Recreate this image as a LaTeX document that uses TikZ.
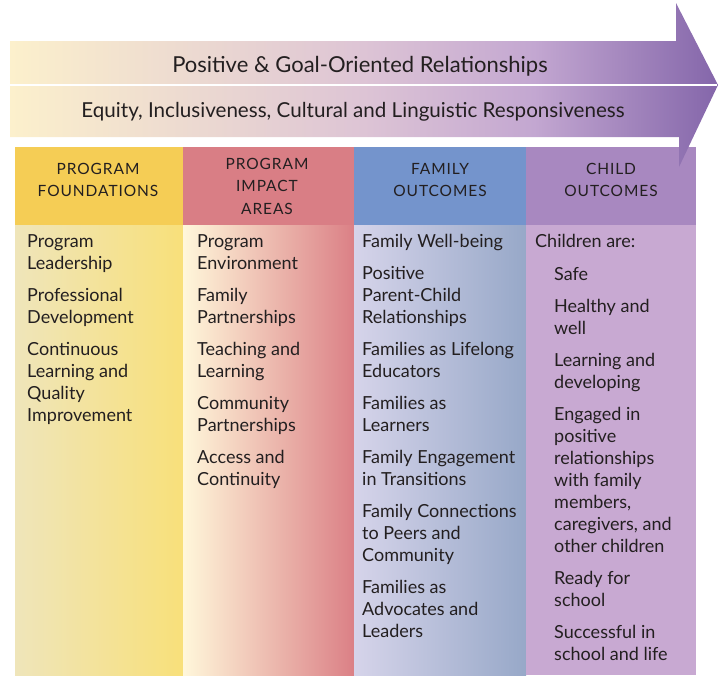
\documentclass[tikz,border=0pt]{standalone}
\usepackage{fontspec}
\setmainfont{Lato}
\newfontfamily\headfont[LetterSpace=6]{Lato}
\usetikzlibrary{positioning}

\definecolor{bandA}{HTML}{FCF0CC}
\definecolor{bandB}{HTML}{DDC4D5}
\definecolor{bandC}{HTML}{C3A7D1}
\definecolor{bandD}{HTML}{8466AA}
\definecolor{foundHead}{HTML}{F5CD55}
\definecolor{foundL}{HTML}{EFE5BA}
\definecolor{foundR}{HTML}{F8E07A}
\definecolor{impactHead}{HTML}{D97E85}
\definecolor{impactL}{HTML}{FFF7DA}
\definecolor{impactM}{HTML}{EFC3B3}
\definecolor{impactR}{HTML}{DB8086}
\definecolor{familyHead}{HTML}{7494CC}
\definecolor{familyL}{HTML}{D6D4EA}
\definecolor{familyM}{HTML}{A6BFDE}
\definecolor{familyR}{HTML}{97A8C8}
\definecolor{childHead}{HTML}{A888C0}
\definecolor{childBody}{HTML}{C8A9D2}
\definecolor{ink}{HTML}{231F20}

\pgfdeclarehorizontalshading{bandshade}{100bp}{color(0bp)=(bandA); color(25bp)=(bandA); color(50bp)=(bandB); color(62bp)=(bandC); color(75bp)=(bandD); color(100bp)=(bandD)}

\begin{document}
\begin{tikzpicture}[x=1pt, y=-1pt,
	headtext/.style={align=center, text=ink, font=\headfont\fontsize{15.5}{22.5}\selectfont},
	bodytext/.style={anchor=north west, align=left, inner sep=0pt, text=ink, font=\fontsize{18}{22}\selectfont},
	bandtext/.style={text=ink, font=\fontsize{22}{24}\selectfont}]
	\useasboundingbox (0,0) rectangle (723,675);
	
	% column headers and bodies
	\fill[foundHead] (15,147) rectangle (183,225);
	\shade[left color=foundL, right color=foundR] (15,225) rectangle (183,675);
	\fill[impactHead] (183,147) rectangle (354,225);
	\shade[left color=impactL, middle color=impactM, right color=impactR] (183,225) rectangle (354,675);
	\fill[familyHead] (354,147) rectangle (526,225);
	\shade[left color=familyL, middle color=familyM, right color=familyR] (354,225) rectangle (526,675);
	\fill[childHead] (526,147) rectangle (696,225);
	\fill[childBody] (526,225) rectangle (696,675);
	
	% the big arrow
	\shade[shading=bandshade] (10,41) -- (676,41) -- (676,3) -- (718,85) -- (679,167) -- (679,137) -- (10,137) -- cycle;
	\coordinate (bandL) at (10,85);
	\coordinate (bandR) at (717,85);
	\draw[white, line width=1.5pt] (bandL) -- (bandR);
	\node[bandtext] (rel) at (360,66) {Positive \& Goal-Oriented Relationships};
	\node[bandtext, font=\fontsize{20.6}{24}\selectfont] (equity) at (353,112) {Equity, Inclusiveness, Cultural and Linguistic Responsiveness};
	
	\node[headtext] (foundT) at (98,180) {PROGRAM\\FOUNDATIONS};
	\node[headtext] (impactT) at (267,186) {PROGRAM\\IMPACT\\AREAS};
	\node[headtext] (familyT) at (440,180) {FAMILY\\OUTCOMES};
	\node[headtext] (childT) at (611,180) {CHILD\\OUTCOMES};
	
	\node[bodytext] (foundB) at (27,234) {Program\\Leadership\\[10pt]
		Professional\\Development\\[10pt]
		Continuous\\Learning and\\Quality\\Improvement};
	\node[bodytext] (impactB) at (197,234) {Program\\Environment\\[10pt]
		Family\\Partnerships\\[10pt]
		Teaching and\\Learning\\[10pt]
		Community\\Partnerships\\[10pt]
		Access and\\Continuity};
	\node[bodytext] (familyB) at (362,234) {Family Well-being\\[10pt]
		Positive\\Parent-Child\\Relationships\\[10pt]
		Families as Lifelong\\Educators\\[10pt]
		Families as\\Learners\\[10pt]
		Family Engagement\\in Transitions\\[10pt]
		Family Connections\\to Peers and\\Community\\[10pt]
		Families as\\Advocates and\\Leaders};
	\node[bodytext] (childB) at (535,234) {Children are:};
	\node[bodytext, below right=19pt and 19pt of childB.south west, anchor=north west] (childL) {Safe\\[10pt]
		Healthy and\\well\\[10pt]
		Learning and\\developing\\[10pt]
		Engaged in\\positive\\relationships\\with family\\members,\\caregivers, and\\other children\\[10pt]
		Ready for\\school\\[10pt]
		Successful in\\school and life};
\end{tikzpicture}
\end{document}
